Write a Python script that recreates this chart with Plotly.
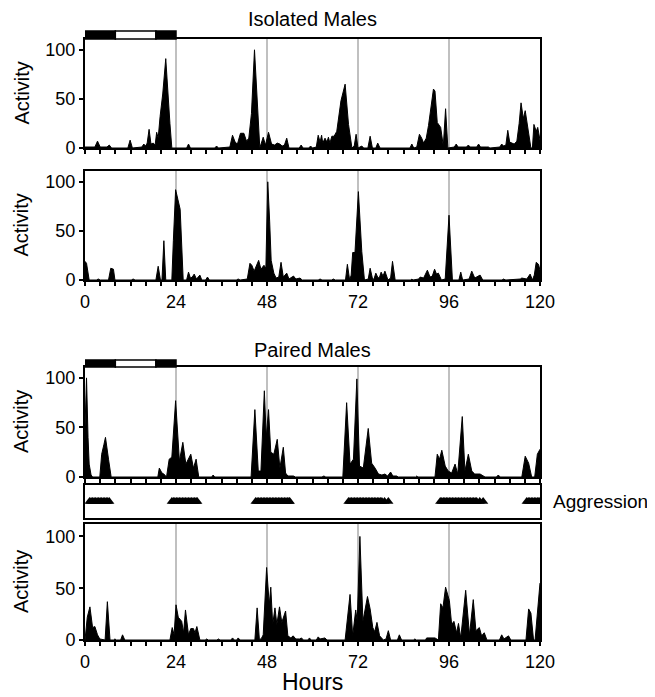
import plotly.graph_objects as go

W0, H0 = 655, 697
OFF = 8                      # browser body margin
W, H = W0 - OFF, H0 - OFF    # figure size so the page fits the window
FONT = "Liberation Sans, Arial, sans-serif"

# ---------------- data (hour, activity) ----------------
isolated_a = [(0,1),(2.6,1),(3.3,7),(4.0,1),(5.8,1),(6.4,3),(7.0,0),(11.3,0),(11.9,8),(12.5,0),
    (15.0,1),(15.5,4),(16.0,2),(16.4,5),(16.9,19),(17.4,4),(18.0,5),(18.5,3),(18.9,16),(19.3,10),
    (19.8,32),(20.5,55),(21.3,91),(22.0,40),(22.4,25),(22.9,0),(26.8,0),(27.3,4),(27.8,0),
    (34.2,0),(34.7,2),(35.2,0),(38.2,1),(38.9,13),(39.6,6),(40.2,4),(41.0,15),(41.9,15),(42.6,7),
    (43.2,10),(43.9,35),(44.7,100),(45.4,45),(46.1,0),(47.0,11),(47.6,3),(48.4,16),(49.2,4),(50.0,3),
    (50.7,5),(51.4,4),(52.0,2),(52.6,3),(53.2,10),(53.8,0),(56.5,0),(57.0,3),(57.5,0),(59.0,0),
    (59.5,2),(60.0,0),(61.0,1),(61.5,13),(62.0,6),(62.4,13),(62.7,5),(63.3,10),(63.8,6),(64.2,11),
    (64.6,5),(65.1,12),(65.7,12),(66.4,17),(67.5,48),(68.6,65),(69.5,24),(70.4,0),(71.0,2),(71.5,14),
    (72.0,0),(72.5,1),(73.0,2),(73.5,0),(74.6,0),(75.2,12),(75.8,0),(76.7,0),(77.2,5),(77.8,0),
    (85.7,0),(86.2,4),(86.7,0),(87.5,1),(88.2,14),(88.8,10),(89.3,5),(90.0,10),(90.6,23),(91.9,60),
    (92.3,58),(92.9,26),(93.8,21),(94.5,2),(95.1,40),(95.7,0),(97.4,1),(97.9,4),(98.4,1),(100.6,1),
    (101.1,3),(101.6,1),(103.3,1),(103.8,4),(104.3,1),(106.0,1),(106.4,1),(106.8,0),(109.4,1),
    (109.9,4),(110.4,2),(111.0,3),(111.5,18),(112.0,6),(112.6,5),(113.2,4),(113.9,7),(114.5,25),
    (115.0,46),(115.6,30),(116.1,38),(117.0,17),(117.6,0),(118.0,0),(118.4,24),(119.0,17),
    (119.4,21),(120,8)]

isolated_b = [(0,19),(0.4,17),(1.1,0),(3.0,0),(3.5,1),(4.0,0),(6.2,0),(6.8,12),(7.5,11),(7.9,0),
    (12.2,0),(12.7,1),(13.2,0),(18.7,0),(19.3,14),(19.9,0),(20.3,0),(20.8,40),(21.3,0),(22.9,0),
    (23.3,40),(23.9,92),(24.5,82),(25.1,72),(25.9,0),(26.8,0),(27.3,8),(27.8,2),(28.3,3),(28.8,6),
    (29.4,1),(30.3,5),(30.8,0),(31.8,0),(32.3,3),(32.8,0),(39.9,0),(40.4,1),(40.9,0),(42.8,1),
    (43.5,17),(44.0,15),(44.6,9),(45.8,20),(46.4,11),(47.2,15),(47.7,12),(48.2,100),(48.7,60),
    (49.1,20),(49.8,7),(50.4,2),(51.1,3),(51.7,18),(52.3,3),(53.2,7),(53.8,1),(55.0,4),(55.6,1),
    (56.7,2),(57.3,0),(61.5,0),(62.0,1),(62.5,0),(65.0,0),(65.5,1),(66.0,0),(68.7,0),(69.2,16),
    (69.8,0),(70.2,5),(70.6,28),(71.2,28),(72.1,90),(73.0,29),(73.7,0),(74.7,1),(75.2,12),(75.9,0),
    (76.3,2),(76.7,7),(77.3,2),(77.7,3),(78.1,8),(78.6,4),(79.1,9),(79.9,0),(80.6,2),(81.1,19),
    (81.8,0),(86.0,0),(86.2,1),(86.5,0),(88.0,1),(88.4,3),(89.3,2),(90.3,10),(91.0,3),(91.6,4),
    (92.2,11),(92.7,6),(93.2,7),(94.0,0),(95.0,1),(96.0,66),(96.9,0),(98.6,0),(99.1,8),(99.6,0),
    (101.3,1),(102.0,9),(102.8,2),(104.2,5),(104.9,0),(110.0,0),(110.3,1),(111.0,0),(114.8,1),
    (115.2,2),(116.5,1),(117.4,6),(118.0,0),(118.5,5),(119.0,18),(119.6,16),(120,10)]

paired_a = [(0,50),(0.4,100),(0.8,40),(1.1,13),(1.6,2),(2.0,0),(3.9,0),(4.4,23),(5.0,33),(5.4,40),
    (6.2,18),(6.9,0),(19.2,0),(19.6,9),(20.3,4),(20.8,3),(21.5,0),(22.2,18),(22.9,20),(23.9,77),
    (24.9,16),(25.8,35),(26.6,13),(27.9,23),(28.6,9),(29.3,18),(30.0,0),(33.4,0),(33.8,2),(34.2,0),
    (43.8,0),(44.8,68),(45.7,6),(46.4,6),(47.3,87),(47.8,40),(48.4,68),(49.0,25),(49.8,23),
    (50.7,38),(51.4,9),(52.3,30),(52.9,4),(53.5,1),(55.0,1),(55.5,0),(62.5,0),(63.0,1),(63.5,0),
    (68.0,0),(69.0,75),(69.9,13),(70.8,18),(71.7,99),(72.4,11),(73.4,9),(74.7,49),(75.6,14),
    (76.5,9),(77.4,3),(78.3,2),(79.1,3),(79.8,1),(80.6,5),(81.2,1),(82.2,1),(82.6,0),(87.2,0),
    (87.5,1),(87.8,0),(92.3,0),(92.9,23),(93.5,18),(94.1,27),(95.0,11),(95.8,6),(96.7,4),(97.6,13),
    (98.3,3),(99.5,61),(100.2,6),(101.1,23),(102.0,6),(102.8,3),(104.2,3),(105.5,0),(108.5,0),
    (109.0,2),(109.5,0),(115.2,0),(116.1,21),(117.0,14),(117.8,0),(118.6,0),(119.3,23),(120,28)]

paired_b = [(0,0),(0.6,22),(1.3,32),(2.0,12),(2.6,13),(3.3,5),(3.9,1),(4.7,0),(5.3,0),(5.9,37),
    (6.6,0),(7.5,0),(7.9,1),(8.3,0),(9.4,0),(9.9,5),(10.5,0),(22.4,0),(23.0,12),(23.5,5),(24.0,34),
    (24.6,22),(25.5,18),(26.0,7),(26.5,29),(27.3,5),(27.9,11),(28.6,11),(29.0,7),(29.5,13),(30.3,0),
    (31.7,0),(32.1,1),(32.5,0),(34.8,0),(35.2,1),(35.6,0),(38.5,0),(38.9,2),(39.4,0),(40.0,0),
    (40.4,2),(40.9,0),(44.8,0),(45.4,31),(46.0,0),(46.6,2),(47.0,5),(47.9,70),(48.6,34),(49.0,51),
    (49.5,15),(50.1,31),(50.6,15),(51.3,32),(51.9,17),(52.9,28),(53.5,4),(54.3,2),(54.9,4),
    (55.6,1),(56.6,1),(57.1,2),(57.6,0),(58.8,0),(59.2,2),(59.6,0),(61.0,0),(61.5,3),(62.0,1),
    (62.9,2),(63.3,2),(63.8,0),(68.6,0),(69.9,44),(70.6,4),(71.4,29),(71.8,18),(72.5,100),
    (73.3,18),(74.5,42),(75.2,30),(75.9,12),(76.4,8),(77.0,17),(77.7,4),(78.7,0),(79.4,1),(80.0,9),
    (80.6,0),(82.4,0),(82.9,5),(83.5,0),(86.6,0),(87.0,1),(87.4,0),(89.8,0),(90.1,2),(92.3,2),
    (93.2,0),(93.8,35),(94.4,31),(95.1,51),(95.6,44),(96.1,38),(96.7,15),(97.3,18),(98.0,7),
    (98.5,16),(99.1,2),(100.4,48),(101.4,5),(102.4,39),(103.1,9),(104.0,12),(104.6,4),(105.3,7),
    (106.0,0),(109.3,0),(109.9,5),(110.5,1),(111.7,4),(112.3,0),(116.3,0),(117.0,30),(117.6,26),
    (118.3,0),(118.7,0),(119.8,52),(120,55)]

# times (hours) at which aggression was scored
aggression_hours = [1.2,1.6,2.0,2.4,2.8,3.2,3.6,4.0,4.4,4.8,5.2,5.6,6.0,6.4,
    22.9,23.3,23.7,24.1,24.5,24.9,25.3,25.7,26.1,26.5,26.9,27.3,27.7,28.1,28.5,28.9,29.3,29.6,
    45.0,45.4,45.8,46.2,46.6,47.0,47.4,47.8,48.2,48.6,49.0,49.4,49.8,50.2,50.6,51.0,51.4,51.8,
    52.2,52.6,53.0,53.4,53.8,54.0,
    69.5,69.9,70.3,70.7,71.1,71.5,71.9,72.3,72.7,73.1,73.5,73.9,74.3,74.7,75.1,75.5,75.9,76.3,
    76.7,77.1,77.5,77.9,78.3,79.0,80.0,
    93.7,94.1,94.5,94.9,95.3,95.7,96.1,96.5,96.9,97.3,97.7,98.1,98.5,98.9,99.3,99.7,100.1,100.5,
    100.9,101.3,101.7,102.1,102.5,102.9,103.3,104.1,105.0,
    116.5,116.9,117.3,117.7,118.1,118.5,118.9,119.3,119.7,120.0]

# light/dark phases of the first day: (start, end, colour)
ld_phases = [(0, 8, "black"), (8, 18.7, "white"), (18.7, 24, "black")]
day_lines = [24, 48, 72, 96]

# ---------------- layout helpers (pixel coords of the 655x697 window) ----------------
def px(x):
    return (x - OFF) / W

def py(y):
    return 1 - (y - OFF) / H

def dom(top, bottom):
    return [py(bottom), py(top)]

XDOM = [px(85), px(540)]
panels = [  # (axis suffix, top px, bottom px, data, show x labels)
    ("", 39, 148, isolated_a, False),
    ("2", 171, 280, isolated_b, True),
    ("3", 367, 477, paired_a, False),
    ("5", 524, 640, paired_b, True),
]

fig = go.Figure()
layout = dict(width=W, height=H, margin=dict(l=0, r=0, t=0, b=0), autosize=False,
              paper_bgcolor="white", plot_bgcolor="white", showlegend=False,
              font=dict(family=FONT, color="black"))
shapes, annotations = [], []

for suf, top, bot, data, showlab in panels:
    xs = [p[0] for p in data]
    ys = [p[1] for p in data]
    fig.add_trace(go.Scatter(x=xs, y=ys, mode="lines", fill="tozeroy",
                             fillcolor="black", line=dict(color="black", width=1),
                             xaxis="x" + suf, yaxis="y" + suf, hoverinfo="skip"))
    yr = [0, 111] if suf != "5" else [0, 112]
    layout["xaxis" + suf] = dict(domain=XDOM, anchor="y" + suf, range=[0, 120],
        tickmode="linear", tick0=0, dtick=24, ticks="outside", ticklen=4, tickwidth=1.5,
        tickcolor="black", showticklabels=showlab, tickfont=dict(size=18),
        minor=dict(ticks="outside", ticklen=4, tickwidth=1.5, dtick=4, tick0=0, tickcolor="black"),
        showline=True, linewidth=2, linecolor="black", mirror=True,
        showgrid=False, zeroline=False, automargin=False, fixedrange=True)
    layout["yaxis" + suf] = dict(domain=dom(top, bot), anchor="x" + suf, range=yr,
        tickmode="array", tickvals=[0, 50, 100], ticks="outside", ticklen=4, tickwidth=1.5,
        tickcolor="black", tickfont=dict(size=18),
        showline=True, linewidth=2, linecolor="black", mirror=True,
        showgrid=False, zeroline=False, automargin=False, fixedrange=True)
    for d in day_lines:
        shapes.append(dict(type="line", xref="x" + suf, yref="y" + suf + " domain",
                           x0=d, x1=d, y0=0, y1=1, layer="below",
                           line=dict(color="#c0c0c0", width=2)))
    annotations.append(dict(text="Activity", xref="paper", yref="paper",
                            x=px(21), y=py((top + bot) / 2), textangle=-90,
                            showarrow=False, font=dict(size=20), xanchor="center", yanchor="middle"))

# aggression strip
fig.add_trace(go.Scatter(x=aggression_hours, y=[0.5] * len(aggression_hours), mode="markers",
                         marker=dict(symbol="triangle-up", size=9, color="black", line=dict(width=0)),
                         xaxis="x4", yaxis="y4", hoverinfo="skip"))
layout["xaxis4"] = dict(domain=XDOM, anchor="y4", range=[0, 120], showticklabels=False, ticks="",
                        showline=True, linewidth=2, linecolor="black", mirror=True,
                        showgrid=False, zeroline=False, automargin=False, fixedrange=True)
layout["yaxis4"] = dict(domain=dom(485, 518), anchor="x4", range=[0, 1], showticklabels=False,
                        ticks="", showline=True, linewidth=2, linecolor="black", mirror=True,
                        showgrid=False, zeroline=False, automargin=False, fixedrange=True)

# light/dark bars
for xref, top, bot in [("x", 31, 39), ("x3", 360, 367)]:
    for s, e, c in ld_phases:
        shapes.append(dict(type="rect", xref=xref, yref="paper", x0=s, x1=e,
                           y0=py(bot), y1=py(top), fillcolor=c,
                           line=dict(color="black", width=1.5)))

def ann(text, xpx, ypx, size):
    annotations.append(dict(text=text, xref="paper", yref="paper", x=px(xpx), y=py(ypx),
                            showarrow=False, font=dict(size=size), xanchor="center", yanchor="middle"))

ann("Isolated Males", 312, 19, 20)
ann("Paired Males", 312, 350, 20)
ann("Aggression", 600, 502, 19)
ann("Hours", 312, 682, 23)

layout["shapes"] = shapes
layout["annotations"] = annotations
fig.update_layout(**layout)
fig.write_html("out.html")
